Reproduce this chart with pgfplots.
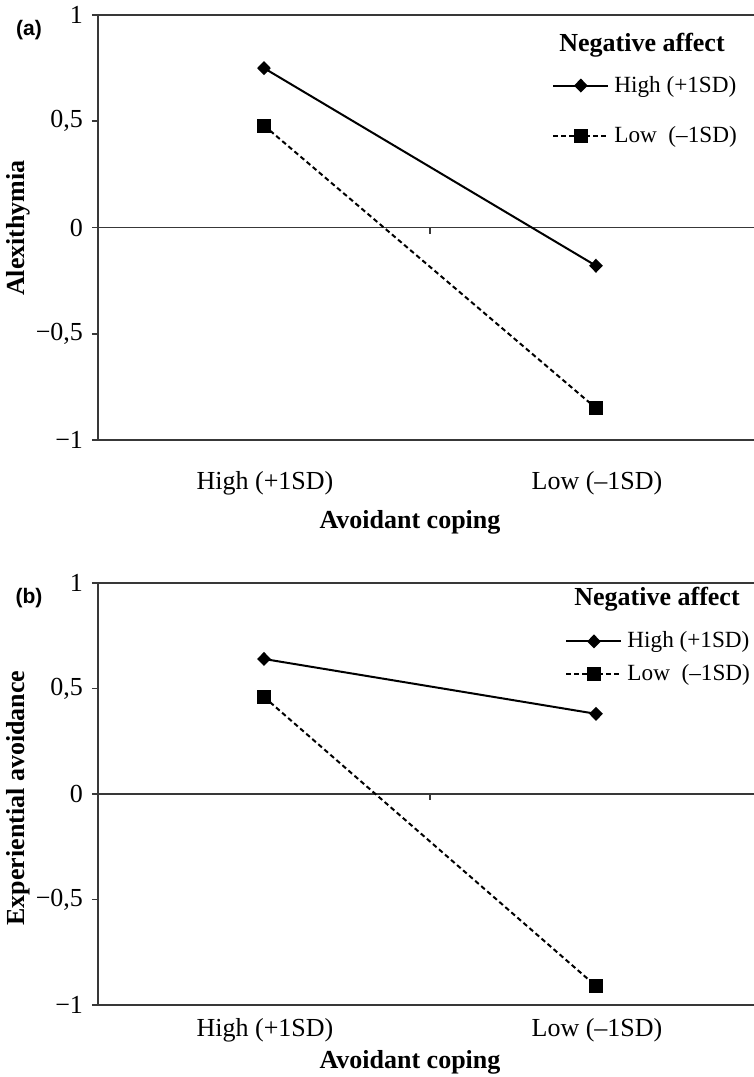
\documentclass[border=0pt]{standalone}
\usepackage{fontspec}
\setmainfont{Liberation Serif}
\newfontfamily\arial{Liberation Sans}
\usepackage{pgfplots}
\pgfplotsset{compat=1.18}

\pgfplotstableread{
x    high   low
0.5  0.75   0.48
1.5  -0.18  -0.85
}\alex
\pgfplotstableread{
x    high   low
0.5  0.64   0.46
1.5  0.38   -0.91
}\expav

\tikzset{axln/.style={draw=black!78, line width=0.9pt}}
\pgfplotsset{
  panel/.style={
    scale only axis, width=328pt, anchor=south west,
    xmin=0, xmax=1.976, ymin=-1, ymax=1,
    axis x line=none, axis y line*=left,
    ytick={-1,-0.5,0,0.5,1},
    yticklabels={−1,−0{,}5,0,0{,}5,1},
    tick align=outside, major tick length=3pt,
    axis line style={axln}, every tick/.style={axln},
    yticklabel style={font=\fontsize{13}{15}\selectfont, xshift=-1pt},
    clip=false,
    legend cell align=left,
    legend image code/.code={
      \draw[mark repeat=2,mark phase=2,##1] plot coordinates {(0pt,0pt) (13.75pt,0pt) (27.5pt,0pt)};},
    legend style={draw=none, fill=none, inner sep=0pt,
      font=\fontsize{11.6}{14}\selectfont,
      nodes={inner ysep=0pt, inner xsep=0pt}},
  },
  hi/.style={black, line width=1pt, mark=diamond*, mark size=2.8pt,
    mark options={solid, xscale=1.3}},
  lo/.style={black, line width=1pt, dash pattern=on 2.4pt off 1.6pt,
    mark=square*, mark size=3pt, mark options={solid}},
}

\begin{document}
\begin{tikzpicture}
\useasboundingbox (0,0) rectangle (377pt,-538.5pt);

% panel (a)
\begin{axis}[panel, height=212.5pt, at={(49pt,-220pt)},
  legend style={at={(0.692,0.775)}, anchor=west, row sep=15.5pt}]
\draw[axln] (axis cs:0,1) -- (axis cs:1.976,1);
\draw[axln] (axis cs:0,0) -- (axis cs:1.976,0);
\draw[axln] (axis cs:0,-1) -- (axis cs:1.976,-1);
\draw[axln] (axis cs:1,0) -- ([yshift=-3pt]axis cs:1,0);
\addplot[hi] table[x=x, y=high] {\alex};
\addlegendentry{\hspace*{2.5pt}High (+1SD)}
\addplot[lo] table[x=x, y=low] {\alex};
\addlegendentry{\hspace*{2.5pt}Low\ \ (–1SD)}
\end{axis}

% panel (b)
\begin{axis}[panel, height=211pt, at={(49pt,-502.5pt)},
  legend style={at={(0.712,0.8235)}, anchor=west, row sep=6.5pt}]
\draw[axln] (axis cs:0,1) -- (axis cs:1.976,1);
\draw[axln] (axis cs:0,0) -- (axis cs:1.976,0);
\draw[axln] (axis cs:0,-1) -- (axis cs:1.976,-1);
\draw[axln] (axis cs:1,0) -- ([yshift=-3pt]axis cs:1,0);
\addplot[hi] table[x=x, y=high] {\expav};
\addlegendentry{\hspace*{2.5pt}High (+1SD)}
\addplot[lo] table[x=x, y=low] {\expav};
\addlegendentry{\hspace*{2.5pt}Low\ \ (–1SD)}
\end{axis}

\begin{scope}[every node/.style={inner sep=0pt}]
\node[font=\arial\bfseries\fontsize{10.5}{12}\selectfont] at (14.5pt,-15pt) {(a)};
\node[font=\arial\bfseries\fontsize{10.5}{12}\selectfont] at (14.5pt,-299pt) {(b)};
\node[rotate=90, font=\bfseries\fontsize{13}{15}\selectfont] at (9pt,-114pt) {Alexithymia};
\node[rotate=90, font=\bfseries\fontsize{13}{15}\selectfont] at (9pt,-399pt) {Experiential avoidance};
\node[font=\fontsize{13}{15}\selectfont] at (132.5pt,-241.5pt) {High (+1SD)};
\node[font=\fontsize{13}{15}\selectfont] at (298.5pt,-241.5pt) {Low (–1SD)};
\node[font=\fontsize{13}{15}\selectfont] at (132.5pt,-515pt) {High (+1SD)};
\node[font=\fontsize{13}{15}\selectfont] at (298.5pt,-515pt) {Low (–1SD)};
\node[font=\bfseries\fontsize{13}{15}\selectfont] at (205pt,-261pt) {Avoidant coping};
\node[font=\bfseries\fontsize{13}{15}\selectfont] at (205pt,-531pt) {Avoidant coping};
\node[font=\bfseries\fontsize{13}{15}\selectfont] at (321pt,-22.5pt) {Negative affect};
\node[font=\bfseries\fontsize{13}{15}\selectfont] at (328.5pt,-299.5pt) {Negative affect};
\end{scope}
\end{tikzpicture}
\end{document}
